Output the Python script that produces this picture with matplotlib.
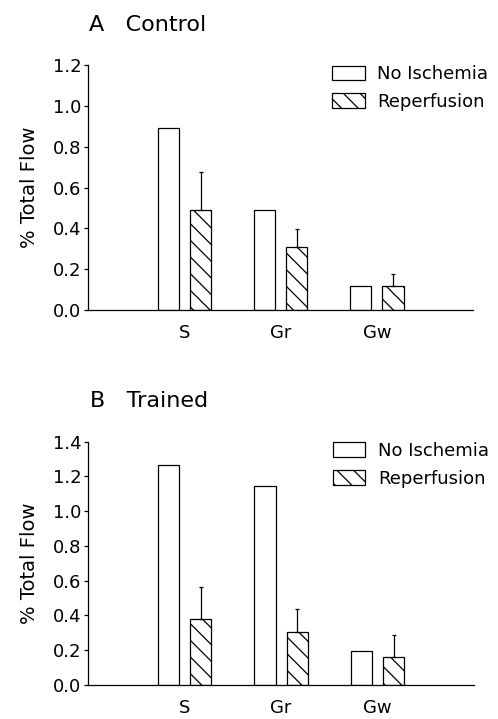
import matplotlib
matplotlib.use("Agg")
import matplotlib.pyplot as plt
import numpy as np

plt.rcParams["hatch.linewidth"] = 0.9
plt.rcParams["font.family"] = "DejaVu Sans"

regions = ["S", "Gr", "Gw"]
series = ["No Ischemia", "Reperfusion"]

# panel A - control
ctrl_no_isch = [0.89, 0.49, 0.116]
ctrl_reperf = [0.49, 0.307, 0.116]
ctrl_reperf_err = [0.185, 0.09, 0.06]

# panel B - trained
trained_no_isch = [1.265, 1.145, 0.193]
trained_reperf = [0.378, 0.307, 0.162]
trained_reperf_err = [0.184, 0.132, 0.124]

panels = [
    ("A   Control", ctrl_no_isch, ctrl_reperf, ctrl_reperf_err, 1.2,
     [0.177, 0.5688, 0.773, 0.3408], (89, 31)),
    ("B   Trained", trained_no_isch, trained_reperf, trained_reperf_err, 1.4,
     [0.177, 0.0473, 0.775, 0.3384], (90, 407)),
]

W, H = 498, 719
fig = plt.figure(figsize=(W / 100, H / 100), dpi=100)

x = np.arange(1, len(regions) + 1)
bw = 0.22
off = 0.168

for title, noi, rep, err, ymax, rect, (tx, ty) in panels:
    ax = fig.add_axes(rect)
    ax.bar(x - off, noi, bw, color="white", edgecolor="black", linewidth=0.9,
           label=series[0])
    ax.bar(x + off, rep, bw, color="white", edgecolor="black", linewidth=0.9,
           hatch="\\\\", label=series[1])
    ax.errorbar(x + off, rep, yerr=[np.zeros(len(err)), err], fmt="none",
                ecolor="black", elinewidth=0.9, capsize=1.5, capthick=0.9)
    ax.set_xlim(0, 4)
    ax.set_ylim(0, ymax)
    ax.set_yticks(np.arange(0, ymax + 0.01, 0.2))
    ax.yaxis.set_major_formatter(plt.FuncFormatter(lambda v, _: f"{v:.1f}"))
    ax.set_xticks(x)
    ax.set_xticklabels(regions)
    ax.tick_params(axis="y", length=3, width=0.9, pad=2, labelsize=13)
    ax.tick_params(axis="x", length=0, pad=10, labelsize=13)
    ax.spines[["top", "right"]].set_visible(False)
    ax.spines[["left", "bottom"]].set_linewidth(0.9)
    ax.set_ylabel("% Total Flow", fontsize=14, labelpad=10)
    ax.legend(loc="upper left", bbox_to_anchor=(0.634, 1.0), frameon=False,
              fontsize=13, handlelength=1.8, handleheight=0.85,
              handletextpad=0.7, borderpad=0, borderaxespad=0, labelspacing=0.55)
    fig.text(tx / W, 1 - ty / H, title, fontsize=16, va="baseline", ha="left")

fig.savefig("out.png", dpi=100)
